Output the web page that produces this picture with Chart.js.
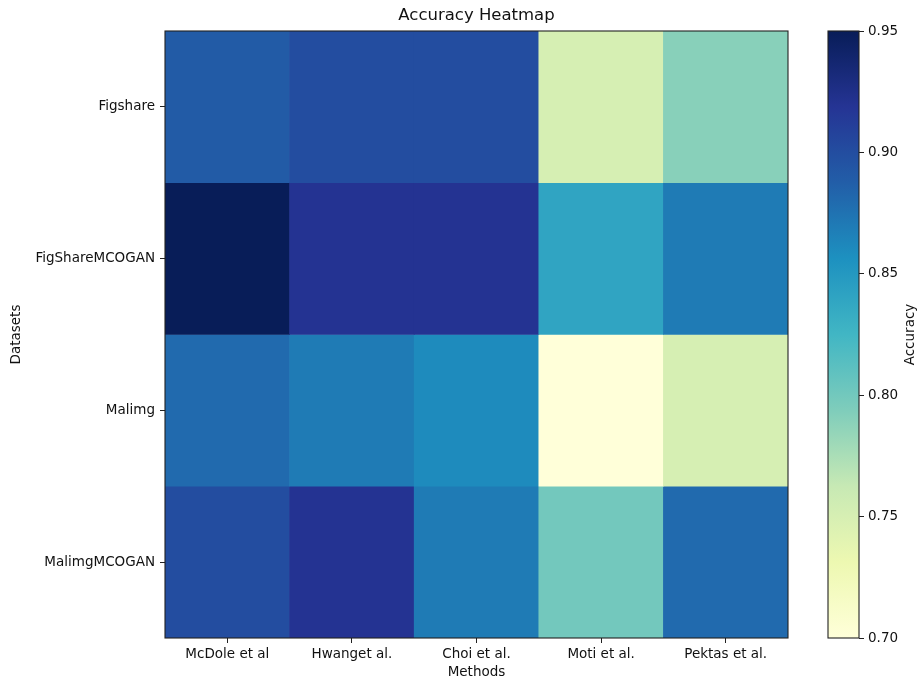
<!DOCTYPE html>
<html>
<head>
<meta charset="utf-8">
<script src="https://cdn.jsdelivr.net/npm/chart.js@4.4.1/dist/chart.umd.min.js"></script>
<style>
  body { margin: 0; background: #fff; }
  #wrap { position: relative; width: 917px; height: 681px; }
  #heat { position: absolute; left: 0; top: 0; }
  #cbar { position: absolute; left: 800px; top: 0; }
</style>
</head>
<body>
<div id="wrap">
  <canvas id="heat" width="800" height="681"></canvas>
  <canvas id="cbar" width="117" height="681"></canvas>
</div>
<script>
const methods = ["McDole et al", "Hwanget al.", "Choi et al.", "Moti et al.", "Pektas et al."];
const datasets = ["Figshare", "FigShareMCOGAN", "Malimg", "MalimgMCOGAN"];

// accuracy per dataset row, one value per method
const figshare = [0.89, 0.90, 0.90, 0.75, 0.79];
const figshareMcogan = [0.95, 0.92, 0.92, 0.84, 0.87];
const malimg = [0.88, 0.87, 0.86, 0.70, 0.75];
const malimgMcogan = [0.90, 0.92, 0.87, 0.80, 0.88];
const accuracy = [figshare, figshareMcogan, malimg, malimgMcogan];

const vmin = 0.70;
const vmax = 0.95;
const cbarTicks = [0.70, 0.75, 0.80, 0.85, 0.90, 0.95];

// YlGnBu
const ylgnbu = [
  [255, 255, 217], [237, 248, 177], [199, 233, 180], [127, 205, 187],
  [65, 182, 196], [29, 145, 192], [34, 94, 168], [37, 52, 148], [8, 29, 88]
];

function cmap(v) {
  let t = (v - vmin) / (vmax - vmin);
  t = Math.max(0, Math.min(1, t)) * (ylgnbu.length - 1);
  const i = Math.min(Math.floor(t), ylgnbu.length - 2);
  const f = t - i;
  const a = ylgnbu[i], b = ylgnbu[i + 1];
  const c = a.map((x, k) => Math.round(x + (b[k] - x) * f));
  return `rgb(${c[0]},${c[1]},${c[2]})`;
}

const font = { family: "'DejaVu Sans', sans-serif", size: 13.5 };
const ink = "#111";

// black frame round the plot area
const frame = {
  id: "frame",
  afterDatasetsDraw(chart) {
    const a = chart.chartArea;
    const c = chart.ctx;
    c.save();
    c.strokeStyle = "#222";
    c.lineWidth = 1.1;
    c.strokeRect(a.left, a.top, a.right - a.left, a.bottom - a.top);
    c.restore();
  }
};

// title centred over the plot area, not the whole canvas
const heatTitle = {
  id: "heatTitle",
  afterDraw(chart) {
    const a = chart.chartArea;
    const c = chart.ctx;
    c.save();
    c.fillStyle = ink;
    c.font = `16.5px ${font.family}`;
    c.textAlign = "center";
    c.textBaseline = "middle";
    c.fillText("Accuracy Heatmap", (a.left + a.right) / 2, 16);
    c.restore();
  }
};

new Chart(document.getElementById("heat"), {
  type: "bar",
  data: {
    labels: methods,
    datasets: accuracy.map((row, r) => ({
      label: datasets[r],
      data: row.map(() => [r, r + 1]),
      backgroundColor: row.map(cmap),
      borderWidth: 0,
      barPercentage: 1,
      categoryPercentage: 1
    }))
  },
  options: {
    responsive: false,
    animation: false,
    layout: { padding: { left: 0, right: 12, top: 31, bottom: 0 } },
    plugins: {
      legend: { display: false },
      tooltip: { enabled: false },
      title: { display: false }
    },
    scales: {
      x: {
        stacked: true,
        afterFit: (s) => { s.height = 43; },
        grid: { display: true, drawOnChartArea: false, offset: false, tickLength: 5, tickColor: "#222" },
        border: { display: false },
        ticks: { color: ink, font, padding: 3, maxRotation: 0 },
        title: { display: true, text: "Methods", color: ink, font, padding: { top: 0, bottom: 0 } }
      },
      y: {
        type: "linear",
        min: 0,
        max: datasets.length,
        reverse: true,
        afterFit: (s) => { s.width = 165; },
        afterBuildTicks: (s) => { s.ticks = datasets.map((_, i) => ({ value: i + 0.5 })); },
        grid: { display: true, drawOnChartArea: false, tickLength: 5, tickColor: "#222" },
        border: { display: false },
        ticks: { color: ink, font, padding: 5, callback: (v) => datasets[Math.floor(v)] },
        title: { display: true, text: "Datasets", color: ink, font, padding: { top: 8.5, bottom: 0 } }
      }
    }
  },
  plugins: [frame, heatTitle]
});

// colour bar label, reading bottom to top
const cbarLabel = {
  id: "cbarLabel",
  afterDraw(chart) {
    const a = chart.chartArea;
    const c = chart.ctx;
    c.save();
    c.translate(110, (a.top + a.bottom) / 2);
    c.rotate(-Math.PI / 2);
    c.fillStyle = ink;
    c.font = `${font.size}px ${font.family}`;
    c.textAlign = "center";
    c.textBaseline = "middle";
    c.fillText("Accuracy", 0, 0);
    c.restore();
  }
};

new Chart(document.getElementById("cbar"), {
  type: "bar",
  data: {
    labels: [""],
    datasets: [{
      data: [[vmin, vmax]],
      borderWidth: 0,
      barPercentage: 1,
      categoryPercentage: 1,
      backgroundColor: (ctx) => {
        const a = ctx.chart.chartArea;
        if (!a) return null;
        const g = ctx.chart.ctx.createLinearGradient(0, a.bottom, 0, a.top);
        ylgnbu.forEach((c, i) => g.addColorStop(i / (ylgnbu.length - 1), `rgb(${c[0]},${c[1]},${c[2]})`));
        return g;
      }
    }]
  },
  options: {
    responsive: false,
    animation: false,
    layout: { padding: { left: 28, right: 0, top: 31, bottom: 43 } },
    plugins: { legend: { display: false }, tooltip: { enabled: false } },
    scales: {
      x: { display: false },
      y: {
        position: "right",
        min: vmin,
        max: vmax,
        afterFit: (s) => { s.width = 58; },
        afterBuildTicks: (s) => { s.ticks = cbarTicks.map((v) => ({ value: v })); },
        grid: { display: true, drawOnChartArea: false, tickLength: 5, tickColor: "#222" },
        border: { display: false },
        ticks: { color: ink, font, padding: 4, callback: (v) => v.toFixed(2) }
      }
    }
  },
  plugins: [frame, cbarLabel]
});
</script>
</body>
</html>
